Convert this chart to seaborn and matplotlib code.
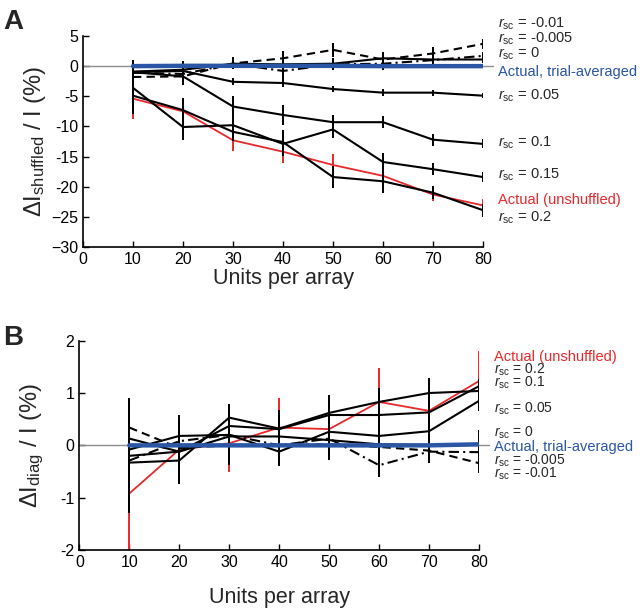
import numpy as np
import pandas as pd
import seaborn as sns
import matplotlib.pyplot as plt

units = [10, 20, 30, 40, 50, 60, 70, 80]

# Panel A: Delta I_shuffled / I (%)
a_m001 = [-1.8, -1.7, 0.45, 1.3, 2.7, 1.1, 2.1, 3.7]
a_m0005 = [-1.1, -1.3, 0.4, -0.8, 0.3, 0.4, 1.0, 1.7]
a_r0 = [-0.9, -0.6, 0.4, 0.3, 0.4, 1.3, 1.1, 1.1]
a_r005 = [-1.0, -0.8, -2.6, -2.8, -3.8, -4.4, -4.4, -4.9]
a_r01 = [-1.0, -1.7, -6.7, -8.1, -9.3, -9.3, -12.2, -12.9]
a_r015 = [-3.6, -10.1, -9.8, -12.9, -10.5, -15.9, -17.1, -18.4]
a_r02 = [-4.9, -7.3, -10.9, -12.6, -18.4, -19.1, -21.0, -23.9]
a_actual = [-5.4, -7.5, -12.3, -14.2, -16.4, -18.2, -21.3, -23.1]
a_trial = [0.0, 0.05, 0.05, 0.05, 0.05, 0.0, 0.0, 0.0]

a_m001_err = [1.2, 1.2, 1.0, 1.2, 1.2, 1.0, 1.0, 0.8]
a_m0005_err = [1.2, 1.2, 0.9, 1.6, 1.0, 1.0, 1.0, 0.6]
a_r0_err = [1.9, 1.5, 0.9, 1.0, 1.0, 1.0, 0.9, 0.6]
a_r005_err = [1.2, 1.2, 0.6, 0.6, 0.5, 0.6, 0.5, 0.4]
a_r01_err = [1.5, 1.5, 1.7, 1.7, 1.2, 1.0, 1.0, 0.75]
a_r015_err = [3.5, 2.1, 1.5, 2.0, 1.5, 1.5, 1.0, 0.9]
a_r02_err = [3.0, 2.0, 1.5, 2.0, 1.8, 1.9, 1.1, 1.1]
a_actual_err = [3.4, 1.8, 1.8, 1.9, 1.9, 1.2, 1.0, 1.1]

# Panel B: Delta I_diag / I (%)
b_m001 = [0.34, -0.05, 0.0, 0.0, 0.02, -0.03, -0.1, -0.34]
b_m0005 = [-0.29, 0.08, 0.2, 0.0, 0.13, -0.38, -0.12, -0.13]
b_r0 = [0.13, -0.12, 0.17, 0.17, 0.1, 0.02, 0.0, 0.02]
b_r005 = [-0.08, 0.18, 0.2, -0.12, 0.26, 0.18, 0.27, 0.85]
b_r01 = [-0.33, -0.29, 0.53, 0.32, 0.62, 0.83, 1.0, 1.04]
b_r02 = [-0.2, -0.12, 0.37, 0.31, 0.58, 0.58, 0.63, 1.13]
b_actual = [-0.92, -0.08, 0.04, 0.34, 0.31, 0.83, 0.66, 1.23]
b_trial = [0.0, 0.0, 0.0, 0.0, 0.0, 0.0, 0.0, 0.02]

b_m001_err = [0.5, 0.4, 0.3, 0.3, 0.3, 0.3, 0.23, 0.18]
b_m0005_err = [0.5, 0.4, 0.3, 0.3, 0.3, 0.22, 0.2, 0.2]
b_r0_err = [0.5, 0.4, 0.55, 0.5, 0.35, 0.3, 0.3, 0.27]
b_r005_err = [0.5, 0.4, 0.4, 0.28, 0.4, 0.5, 0.6, 0.2]
b_r01_err = [0.6, 0.45, 0.26, 0.35, 0.35, 0.26, 0.28, 0.23]
b_r02_err = [1.1, 0.6, 0.42, 0.35, 0.35, 0.4, 0.35, 0.14]
b_actual_err = [1.1, 0.5, 0.54, 0.56, 0.58, 0.65, 0.4, 0.58]

rsc_labels = ['-0.01', '-0.005', '0', '0.05', '0.1', '0.15', '0.2']

sns.set_style('ticks')
plt.rcParams['font.family'] = ['Liberation Sans', 'DejaVu Sans']
plt.rcParams['mathtext.fontset'] = 'custom'
plt.rcParams['mathtext.rm'] = 'Liberation Sans'
plt.rcParams['mathtext.it'] = 'Liberation Sans:italic'
plt.rcParams['axes.unicode_minus'] = False

RED = '#e8282b'
BLUE = '#2a56a5'
fs_tick = 11.5
fs_xlab = 15.5
fs_ylab = 17
fs_note = 10.5


def draw_panel(ax, black_series, actual, actual_err, trial, xpad):
    # gray zero reference line
    ax.axhline(0, xmin=0, xmax=1.025, color='#8c8c8c', lw=1, zorder=1, clip_on=False)
    # red actual (unshuffled)
    sns.lineplot(x=units, y=actual, ax=ax, color=RED, linewidth=1.3, zorder=2)
    ax.errorbar(units, actual, yerr=actual_err, fmt='none', ecolor=RED,
                elinewidth=1.4, capsize=0, zorder=2)
    for vals, err, ls in black_series:
        sns.lineplot(x=units, y=vals, ax=ax, color='black', linewidth=1.5,
                     linestyle=ls, zorder=3)
        ax.errorbar(units, vals, yerr=err, fmt='none', ecolor='black',
                    elinewidth=1.4, capsize=0, zorder=3)
    sns.lineplot(x=units, y=trial, ax=ax, color=BLUE, linewidth=3.2, zorder=4)
    ax.set_xlim(0, 80)
    ax.set_xticks(range(0, 81, 10))
    ax.tick_params(direction='in', length=4, width=1, labelsize=fs_tick, colors='black')
    sns.despine(ax=ax)
    for sp in ['left', 'bottom']:
        ax.spines[sp].set_linewidth(1.2)
        ax.spines[sp].set_color('black')
    ax.set_xlabel('Units per array', fontsize=fs_xlab, labelpad=xpad)


fig = plt.figure(figsize=(6.4, 6.08), dpi=100)
axA = fig.add_axes([0.1297, 0.5938, 0.625, 0.347])
axB = fig.add_axes([0.124, 0.0954, 0.6244, 0.3442])

dash = (0, (4, 2.5))
dashdot = (0, (5, 2, 1, 2))

draw_panel(axA,
           [(a_m001, a_m001_err, dash), (a_m0005, a_m0005_err, dashdot),
            (a_r0, a_r0_err, '-'), (a_r005, a_r005_err, '-'),
            (a_r01, a_r01_err, '-'), (a_r015, a_r015_err, '-'),
            (a_r02, a_r02_err, '-')],
           a_actual, a_actual_err, a_trial, 0.5)
axA.set_ylim(-30, 5)
axA.set_yticks([5, 0, -5, -10, -15, -20, -25, -30])
axA.set_yticklabels(['5', '0', '-5', '-10', '-15', '-20', '\u221225', '\u221230'])
axA.set_ylabel(r'$\Delta\mathregular{I_{shuffled}}$ / I (%)', fontsize=fs_ylab, labelpad=2)

draw_panel(axB,
           [(b_m001, b_m001_err, dash), (b_m0005, b_m0005_err, dashdot),
            (b_r0, b_r0_err, '-'), (b_r005, b_r005_err, '-'),
            (b_r01, b_r01_err, '-'), (b_r02, b_r02_err, '-')],
           b_actual, b_actual_err, b_trial, 12)
axB.set_ylim(-2, 2)
axB.set_yticks([2, 1, 0, -1, -2])
axB.set_ylabel(r'$\Delta\mathregular{I_{diag}}$ / I (%)', fontsize=fs_ylab, labelpad=10)

# right-hand labels, panel A
a_lab_y = [7.1, 4.5, 2.0, -5.0, -12.8, -18.1, -25.2]
for lab, y in zip(rsc_labels, a_lab_y):
    axA.text(83.0, y, r'$r_{\mathrm{sc}}$ = ' + lab, fontsize=fs_note, va='center',
             clip_on=False)
axA.text(83.0, -1.0, 'Actual, trial-averaged', color=BLUE, fontsize=fs_note, va='center')
axA.text(83.0, -22.2, 'Actual (unshuffled)', color=RED, fontsize=fs_note, va='center')

# right-hand labels, panel B (stacked tightly, as in the original figure)
b_lab = ['0.2', '0.1', '0.05', '0', '-0.005', '-0.01']
b_lab_y = [1.44, 1.19, 0.70, 0.24, -0.30, -0.55]
for lab, y in zip(b_lab, b_lab_y):
    axB.text(83.0, y, r'$r_{\mathrm{sc}}$ = ' + lab, fontsize=10, va='center')
axB.text(83.0, 1.69, 'Actual (unshuffled)', color=RED, fontsize=fs_note, va='center')
axB.text(83.0, -0.03, 'Actual, trial-averaged', color=BLUE, fontsize=fs_note, va='center')

fig.text(0.005, 0.985, 'A', fontsize=20, fontweight='bold', va='top')
fig.text(0.005, 0.465, 'B', fontsize=20, fontweight='bold', va='top')

fig.savefig('out.png', dpi=100)
